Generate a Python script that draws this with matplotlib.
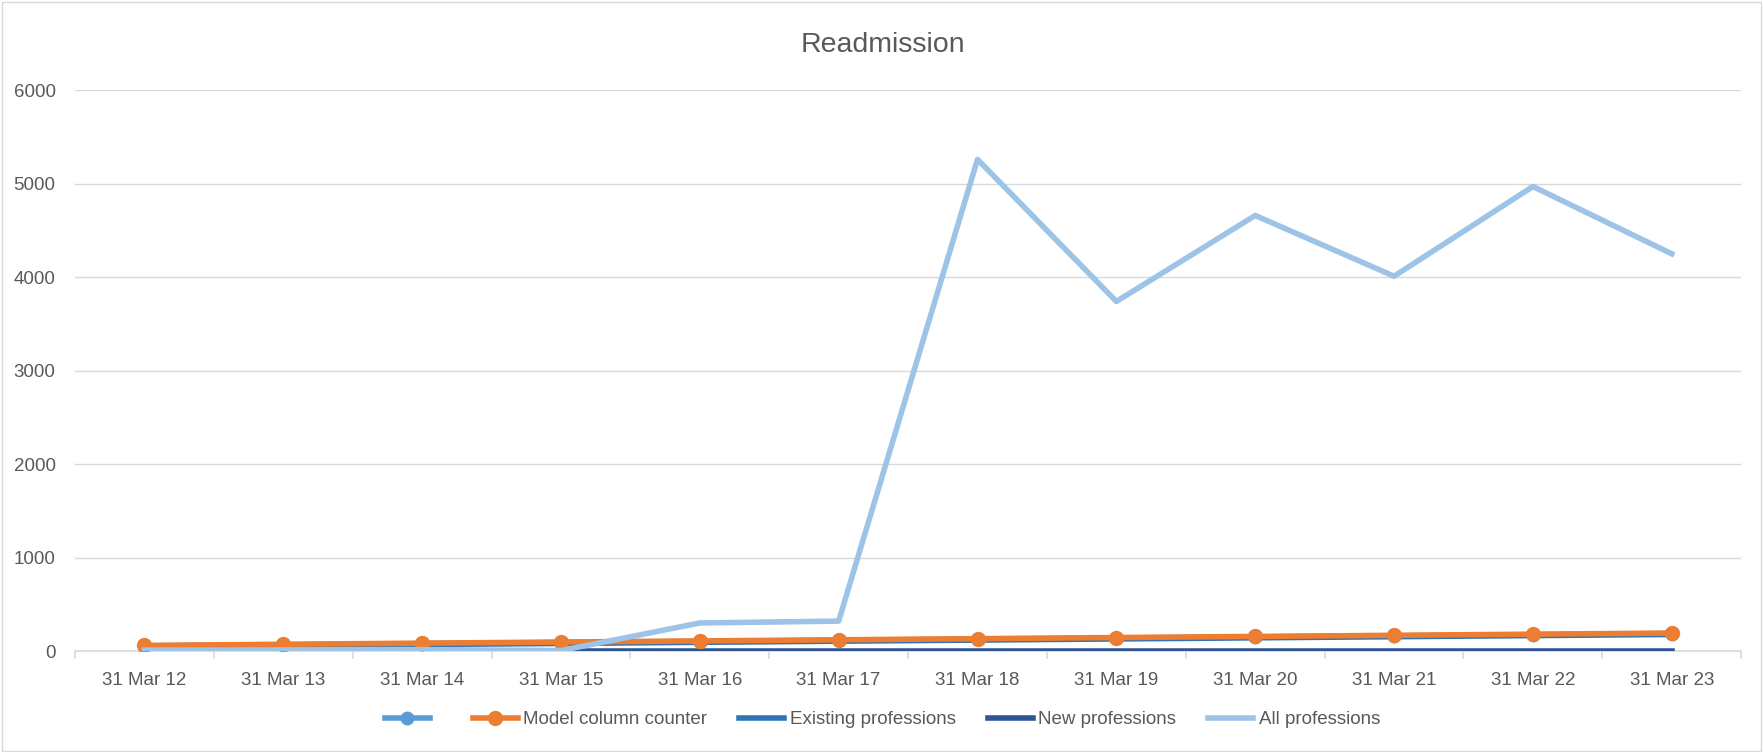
import matplotlib.pyplot as plt
import numpy as np

# Data
dates = ["31 Mar 12", "31 Mar 13", "31 Mar 14", "31 Mar 15", "31 Mar 16", "31 Mar 17",
         "31 Mar 18", "31 Mar 19", "31 Mar 20", "31 Mar 21", "31 Mar 22", "31 Mar 23"]
unnamed = [55, 67, 79, 91, 103, 115, 127, 139, 151, 163, 175, 187]
model_counter = [60, 72, 84, 96, 108, 120, 132, 144, 156, 168, 180, 192]
existing = [45, 57, 69, 81, 93, 105, 117, 129, 141, 153, 165, 177]
new_prof = [None, None, None, 0, 0, 0, 0, 0, 0, 0, 0, 0]
all_prof = [10, 12, 15, 5, 300, 320, 5260, 3740, 4660, 4010, 4970, 4250]

plt.rcParams['font.family'] = ['Liberation Sans Narrow', 'Liberation Sans', 'DejaVu Sans']

fig = plt.figure(figsize=(17.65, 7.52), dpi=100)
ax = fig.add_axes([0.0425, 0.1343, 0.944, 0.7457])

x = np.arange(len(dates))
ax.plot(x, unnamed, color='#5B9BD5', lw=4, marker='o', ms=9, label=' ', zorder=3)
ax.plot(x, existing, color='#2E75B6', lw=4, label='Existing professions', zorder=3)
ax.plot(x, model_counter, color='#ED7D31', lw=4, marker='o', ms=10,
        label='Model column counter', zorder=4)
new_x = [i for i, v in enumerate(new_prof) if v is not None]
ax.plot(new_x, [new_prof[i] for i in new_x], color='#2F5597', lw=4,
        label='New professions', zorder=3)
ax.plot(x, all_prof, color='#9DC3E6', lw=4, label='All professions', zorder=5)

ax.set_xlim(-0.5, len(dates) - 0.5)
ax.set_ylim(0, 6000)
ax.set_yticks(range(0, 6001, 1000))
ax.set_xticks(x)
ax.set_xticklabels(dates)
ax.set_xticks(np.arange(-0.5, len(dates)), minor=True)
ax.tick_params(axis='x', which='major', length=0, pad=15, labelsize=13.5, colors='#595959')
ax.tick_params(axis='x', which='minor', length=6, color='#D9D9D9', width=1.2)
ax.tick_params(axis='y', length=0, pad=14, labelsize=13.5, colors='#595959')
ax.grid(axis='y', color='#D9D9D9', lw=1)
ax.set_axisbelow(True)
for s in ['top', 'right', 'left']:
    ax.spines[s].set_visible(False)
ax.spines['bottom'].set_color('#D9D9D9')
ax.spines['bottom'].set_linewidth(1.2)

fig.text(0.5, 0.94, 'Readmission', fontsize=20.5, color='#595959', ha='center', va='center')

handles, labels = ax.get_legend_handles_labels()
order = [0, 2, 1, 3, 4]
leg = fig.legend([handles[i] for i in order], [labels[i] for i in order],
                 loc='center', bbox_to_anchor=(0.5, 0.043), ncol=5, frameon=False,
                 fontsize=13.5, handlelength=2.4, handletextpad=0.3, columnspacing=1.7)
for t in leg.get_texts():
    t.set_color('#595959')

fig.patches.append(plt.Rectangle((0.001, 0.001), 0.997, 0.997, transform=fig.transFigure,
                                 fill=False, edgecolor='#D9D9D9', lw=1))

fig.savefig('out.png', dpi=100)
